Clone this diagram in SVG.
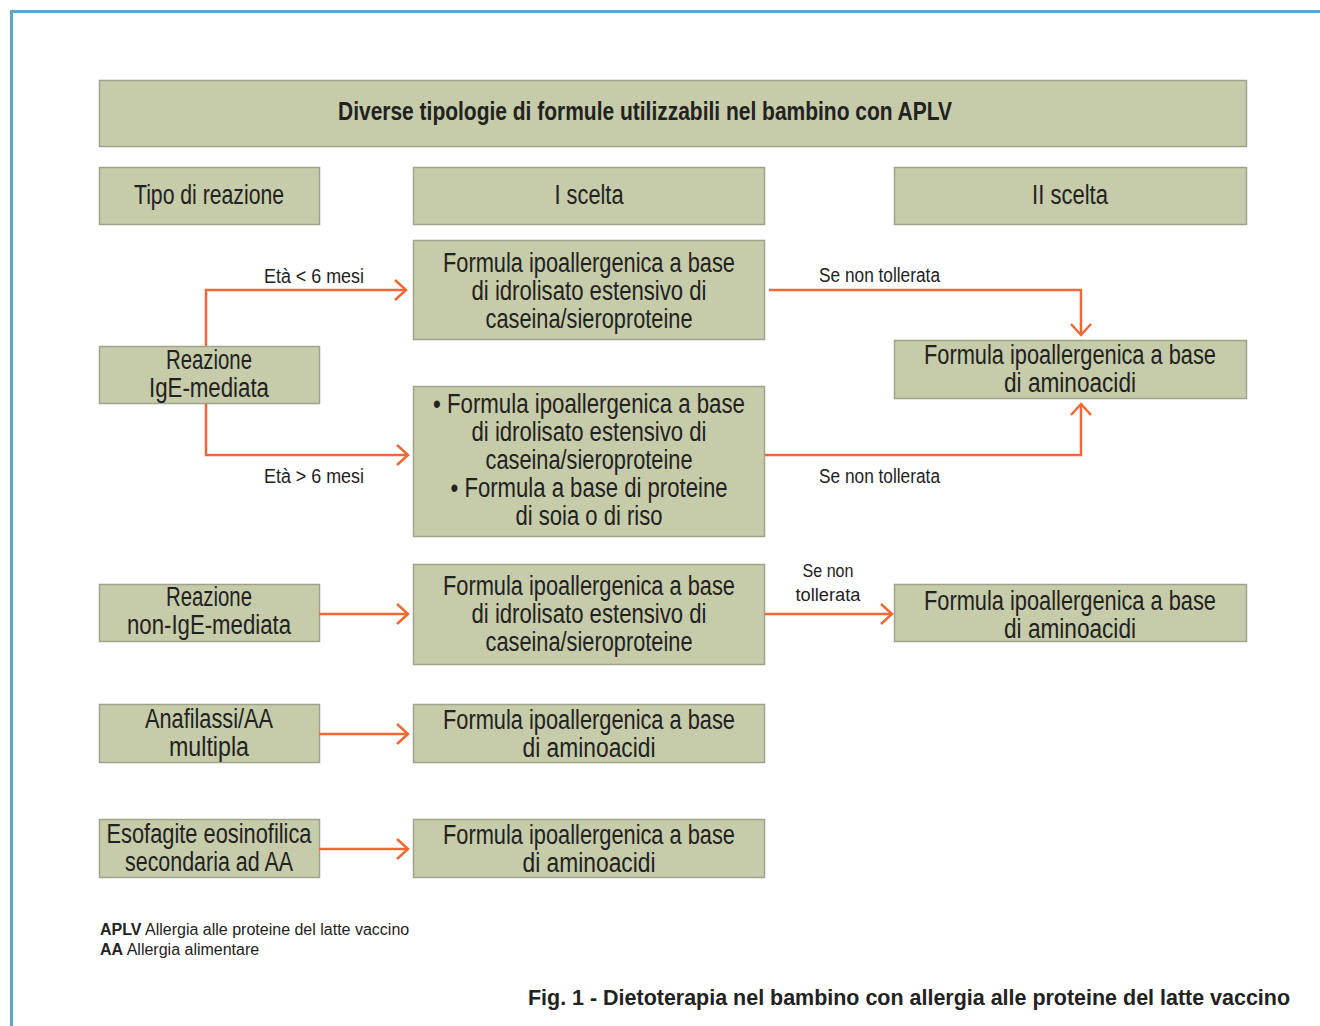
<svg xmlns="http://www.w3.org/2000/svg" width="1320" height="1026" viewBox="0 0 1320 1026">
<style>
.box{fill:#c6cba9;stroke:#a0a28c;stroke-width:1.5}
.t{font-family:"Liberation Sans",Arial,sans-serif;fill:#222222;text-anchor:middle;dominant-baseline:central;font-size:27px}
.ttl{font-size:25px;font-weight:bold}
.lab{font-family:"Liberation Sans",Arial,sans-serif;fill:#222222;font-size:20px;dominant-baseline:central}
.sm{font-size:18px}
.c{fill:none;stroke:#f06934;stroke-width:2.5}
.foot{font-family:"Liberation Sans",Arial,sans-serif;font-size:16px;fill:#222222}
.cap{font-family:"Liberation Sans",Arial,sans-serif;font-size:22px;font-weight:bold;fill:#222222;text-anchor:end}
</style>
<defs>
<marker id="ah" markerUnits="userSpaceOnUse" markerWidth="20" markerHeight="24" viewBox="0 0 20 24" refX="14" refY="12" orient="auto">
<path d="M3,2 L14,12 L3,22" fill="none" stroke="#f06934" stroke-width="2.5"/>
</marker>
</defs>
<rect width="1320" height="1026" fill="#ffffff"/>
<path d="M1320,11.5 L11.5,11.5 L11.5,1026" fill="none" stroke="#5aa7c9" stroke-width="3"/>

<g id="title"><rect class="box" x="99.5" y="80.5" width="1147" height="66"/><text class="t ttl" x="645" y="111" textLength="614" lengthAdjust="spacingAndGlyphs">Diverse tipologie di formule utilizzabili nel bambino con APLV</text></g>
<g id="h-tipo"><rect class="box" x="99.5" y="167.5" width="220" height="57"/><text class="t" x="209" y="195" textLength="150" lengthAdjust="spacingAndGlyphs">Tipo di reazione</text></g>
<g id="h-i"><rect class="box" x="413.5" y="167.5" width="351" height="57"/><text class="t" x="589" y="195" textLength="69" lengthAdjust="spacingAndGlyphs">I scelta</text></g>
<g id="h-ii"><rect class="box" x="894.5" y="167.5" width="352" height="57"/><text class="t" x="1070" y="195" textLength="76" lengthAdjust="spacingAndGlyphs">II scelta</text></g>

<g id="a1"><rect class="box" x="413.5" y="240.5" width="351" height="99"/>
<text class="t" x="589" y="263" textLength="292" lengthAdjust="spacingAndGlyphs">Formula ipoallergenica a base</text>
<text class="t" x="589" y="291" textLength="235" lengthAdjust="spacingAndGlyphs">di idrolisato estensivo di</text>
<text class="t" x="589" y="319" textLength="207" lengthAdjust="spacingAndGlyphs">caseina/sieroproteine</text></g>

<g id="ige"><rect class="box" x="99.5" y="346.5" width="220" height="57"/>
<text class="t" x="209" y="360" textLength="86" lengthAdjust="spacingAndGlyphs">Reazione</text>
<text class="t" x="209" y="388" textLength="120" lengthAdjust="spacingAndGlyphs">IgE-mediata</text></g>

<g id="a2"><rect class="box" x="413.5" y="386.5" width="351" height="150"/>
<text class="t" x="589" y="404" textLength="312" lengthAdjust="spacingAndGlyphs">• Formula ipoallergenica a base</text>
<text class="t" x="589" y="432" textLength="235" lengthAdjust="spacingAndGlyphs">di idrolisato estensivo di</text>
<text class="t" x="589" y="460" textLength="207" lengthAdjust="spacingAndGlyphs">caseina/sieroproteine</text>
<text class="t" x="589" y="488" textLength="277" lengthAdjust="spacingAndGlyphs">• Formula a base di proteine</text>
<text class="t" x="589" y="516" textLength="147" lengthAdjust="spacingAndGlyphs">di soia o di riso</text></g>

<g id="r1"><rect class="box" x="894.5" y="340.5" width="352" height="58"/>
<text class="t" x="1070" y="355" textLength="292" lengthAdjust="spacingAndGlyphs">Formula ipoallergenica a base</text>
<text class="t" x="1070" y="383" textLength="132" lengthAdjust="spacingAndGlyphs">di aminoacidi</text></g>

<g id="nonige"><rect class="box" x="99.5" y="584.5" width="220" height="57"/>
<text class="t" x="209" y="597" textLength="86" lengthAdjust="spacingAndGlyphs">Reazione</text>
<text class="t" x="209" y="625" textLength="164" lengthAdjust="spacingAndGlyphs">non-IgE-mediata</text></g>

<g id="b"><rect class="box" x="413.5" y="564.5" width="351" height="100"/>
<text class="t" x="589" y="586" textLength="292" lengthAdjust="spacingAndGlyphs">Formula ipoallergenica a base</text>
<text class="t" x="589" y="614" textLength="235" lengthAdjust="spacingAndGlyphs">di idrolisato estensivo di</text>
<text class="t" x="589" y="642" textLength="207" lengthAdjust="spacingAndGlyphs">caseina/sieroproteine</text></g>

<g id="r2"><rect class="box" x="894.5" y="584.5" width="352" height="57"/>
<text class="t" x="1070" y="601" textLength="292" lengthAdjust="spacingAndGlyphs">Formula ipoallergenica a base</text>
<text class="t" x="1070" y="629" textLength="132" lengthAdjust="spacingAndGlyphs">di aminoacidi</text></g>

<g id="ana"><rect class="box" x="99.5" y="704.5" width="220" height="58"/>
<text class="t" x="209" y="719" textLength="128" lengthAdjust="spacingAndGlyphs">Anafilassi/AA</text>
<text class="t" x="209" y="747" textLength="80" lengthAdjust="spacingAndGlyphs">multipla</text></g>

<g id="c"><rect class="box" x="413.5" y="704.5" width="351" height="58"/>
<text class="t" x="589" y="720" textLength="292" lengthAdjust="spacingAndGlyphs">Formula ipoallergenica a base</text>
<text class="t" x="589" y="748" textLength="133" lengthAdjust="spacingAndGlyphs">di aminoacidi</text></g>

<g id="eso"><rect class="box" x="99.5" y="819.5" width="220" height="58"/>
<text class="t" x="209" y="834" textLength="205" lengthAdjust="spacingAndGlyphs">Esofagite eosinofilica</text>
<text class="t" x="209" y="862" textLength="168" lengthAdjust="spacingAndGlyphs">secondaria ad AA</text></g>

<g id="d"><rect class="box" x="413.5" y="819.5" width="351" height="58"/>
<text class="t" x="589" y="835" textLength="292" lengthAdjust="spacingAndGlyphs">Formula ipoallergenica a base</text>
<text class="t" x="589" y="863" textLength="133" lengthAdjust="spacingAndGlyphs">di aminoacidi</text></g>

<g id="connectors">
<path class="c" d="M206,346 L206,290 L406,290" marker-end="url(#ah)"/>
<path class="c" d="M206,404 L206,455 L408,455" marker-end="url(#ah)"/>
<path class="c" d="M769,290 L1081,290 L1081,335" marker-end="url(#ah)"/>
<path class="c" d="M765,455 L1081,455 L1081,404" marker-end="url(#ah)"/>
<path class="c" d="M319,614 L408,614" marker-end="url(#ah)"/>
<path class="c" d="M765,614 L892,614" marker-end="url(#ah)"/>
<path class="c" d="M319,734 L408,734" marker-end="url(#ah)"/>
<path class="c" d="M319,849 L408,849" marker-end="url(#ah)"/>
<text class="lab" x="314" y="276" text-anchor="middle" textLength="100" lengthAdjust="spacingAndGlyphs">Età &lt; 6 mesi</text>
<text class="lab" x="314" y="476" text-anchor="middle" textLength="100" lengthAdjust="spacingAndGlyphs">Età &gt; 6 mesi</text>
<text class="lab" x="819" y="275" textLength="121" lengthAdjust="spacingAndGlyphs">Se non tollerata</text>
<text class="lab" x="819" y="476" textLength="121" lengthAdjust="spacingAndGlyphs">Se non tollerata</text>
<text class="lab sm" x="828" y="571" text-anchor="middle" textLength="51" lengthAdjust="spacingAndGlyphs">Se non</text>
<text class="lab sm" x="828" y="595" text-anchor="middle" textLength="65" lengthAdjust="spacingAndGlyphs">tollerata</text>
</g>

<g id="legend">
<text class="foot" x="100" y="935"><tspan font-weight="bold">APLV</tspan> Allergia alle proteine del latte vaccino</text>
<text class="foot" x="100" y="955"><tspan font-weight="bold">AA</tspan> Allergia alimentare</text>
</g>
<text class="cap" x="1290" y="1005" textLength="762" lengthAdjust="spacingAndGlyphs">Fig. 1 - Dietoterapia nel bambino con allergia alle proteine del latte vaccino</text>
</svg>
